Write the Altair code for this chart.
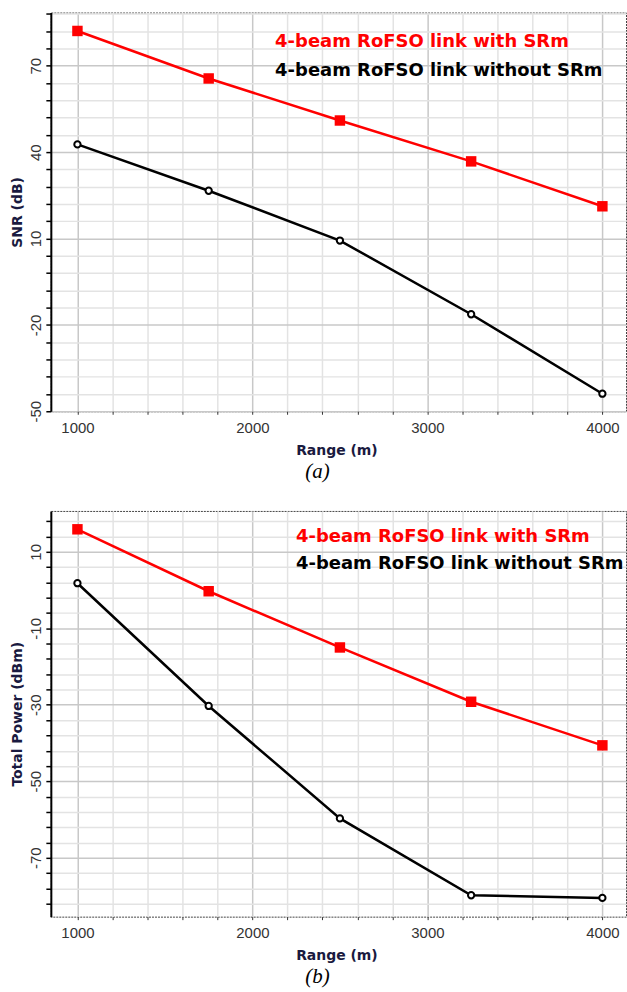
import altair as alt
import pandas as pd

# ---- data ----
ranges = [1000, 1750, 2500, 3250, 4000]
series_names = ["4-beam RoFSO link with SRm", "4-beam RoFSO link without SRm"]
snr_with = [82.1, 65.6, 51.0, 36.8, 21.2]
snr_without = [42.7, 26.6, 9.3, -16.3, -43.9]
power_with = [15.9, -0.3, -15.0, -29.2, -40.6]
power_without = [1.8, -30.3, -59.7, -79.8, -80.5]

x_ticks = list(range(1000, 4001, 200))
snr_ticks = list(range(-50, 89, 6))
power_ticks = list(range(-82, 19, 4))

RED = "#ff0000"
BLACK = "#000000"
W = 577


def panel(vals_with, vals_without, ydomain, yticks, major_test, ytitle, caption,
          height, legend_x, legend_y1, legend_y2):
    df = pd.DataFrame({
        "range": ranges * 2,
        "value": vals_with + vals_without,
        "series": [series_names[0]] * len(ranges) + [series_names[1]] * len(ranges),
    })
    x = alt.X(
        "range:Q",
        scale=alt.Scale(domain=[848, 4135], nice=False, zero=False),
        axis=alt.Axis(
            values=x_ticks,
            labelExpr="datum.value % 1000 == 0 ? '' + datum.value : ''",
            labelFont="Liberation Sans", labelFontSize=15, labelColor="#333333",
            labelPadding=6, labelOverlap=False, labelFlush=False,
            tickSize=3, tickColor="#333333", domain=False,
            gridColor={"condition": {"test": "datum.value % 1000 == 0", "value": "#c8c8c8"},
                       "value": "#e3e3e3"},
            gridWidth=1.5,
            title="Range (m)", titleFont="DejaVu Sans", titleFontSize=14,
            titleFontWeight="bold", titleColor="#1a1a40",
            titleX=W / 2 - 2, titleY=39, titleBaseline="middle", titleAlign="center",
        ),
    )
    y = alt.Y(
        "value:Q",
        scale=alt.Scale(domain=ydomain, nice=False, zero=False),
        axis=alt.Axis(
            values=yticks,
            labelExpr=f"({major_test}) ? '' + datum.value : ''",
            labelAngle=270, labelAlign="center", labelBaseline="middle",
            labelFont="Liberation Sans", labelFontSize=15, labelColor="#333333",
            labelPadding=10, labelOverlap=False, labelFlush=False,
            tickSize=5, tickColor="black", tickWidth=1.5,
            domainColor="black", domainWidth=2,
            gridColor={"condition": {"test": major_test, "value": "#c8c8c8"},
                       "value": "#e3e3e3"},
            gridWidth=1.5,
            title=ytitle, titleFont="DejaVu Sans", titleFontSize=14,
            titleFontWeight="bold", titleColor="#1a1a40",
            titleX=-33, titleY=height / 2, titleBaseline="middle", titleAlign="center",
        ),
    )
    color = alt.Color("series:N", scale=alt.Scale(domain=series_names, range=[RED, BLACK]),
                      legend=None)
    base = alt.Chart(df).encode(x=x, y=y)
    line = base.mark_line(strokeWidth=2.5).encode(color=color)
    squares = base.transform_filter(alt.datum.series == series_names[0]).mark_point(
        shape="square", filled=True, color=RED, size=110, opacity=1)
    circles = base.transform_filter(alt.datum.series == series_names[1]).mark_point(
        shape="circle", filled=True, fill="white", stroke=BLACK, strokeWidth=2,
        size=40, opacity=1)
    leg1 = alt.Chart(pd.DataFrame({"label": [series_names[0]]})).mark_text(
        align="left", baseline="middle", font="DejaVu Sans", fontWeight="bold",
        fontSize=18, color=RED).encode(
        x=alt.value(legend_x), y=alt.value(legend_y1), text="label:N")
    leg2 = alt.Chart(pd.DataFrame({"label": [series_names[1]]})).mark_text(
        align="left", baseline="middle", font="DejaVu Sans", fontWeight="bold",
        fontSize=18, color=BLACK).encode(
        x=alt.value(legend_x), y=alt.value(legend_y2), text="label:N")
    return alt.layer(line, squares, circles, leg1, leg2).properties(
        width=W, height=height,
        title=alt.TitleParams(caption, orient="bottom", font="Liberation Serif",
                              fontStyle="italic", fontWeight="normal", fontSize=21,
                              color="black", dx=-21, offset=4),
    )


top = panel(snr_with, snr_without, [-50, 88.5], snr_ticks,
            "(datum.value - 10) % 30 == 0", "SNR (dB)", "(a)", 400, 225, 29.5, 59)
bottom = panel(power_with, power_without, [-85.4, 20.7], power_ticks,
               "(datum.value - 10) % 20 == 0", "Total Power (dBm)", "(b)", 407, 246, 26, 53)

chart = alt.vconcat(top, bottom, spacing=27).properties(
    padding={"left": 10, "top": 10, "right": 0, "bottom": 0},
    background="white",
).configure_view(stroke="#444444", strokeDash=[2, 1], strokeWidth=1)

chart.save("out.html", embed_options={"renderer": "svg", "actions": False})
